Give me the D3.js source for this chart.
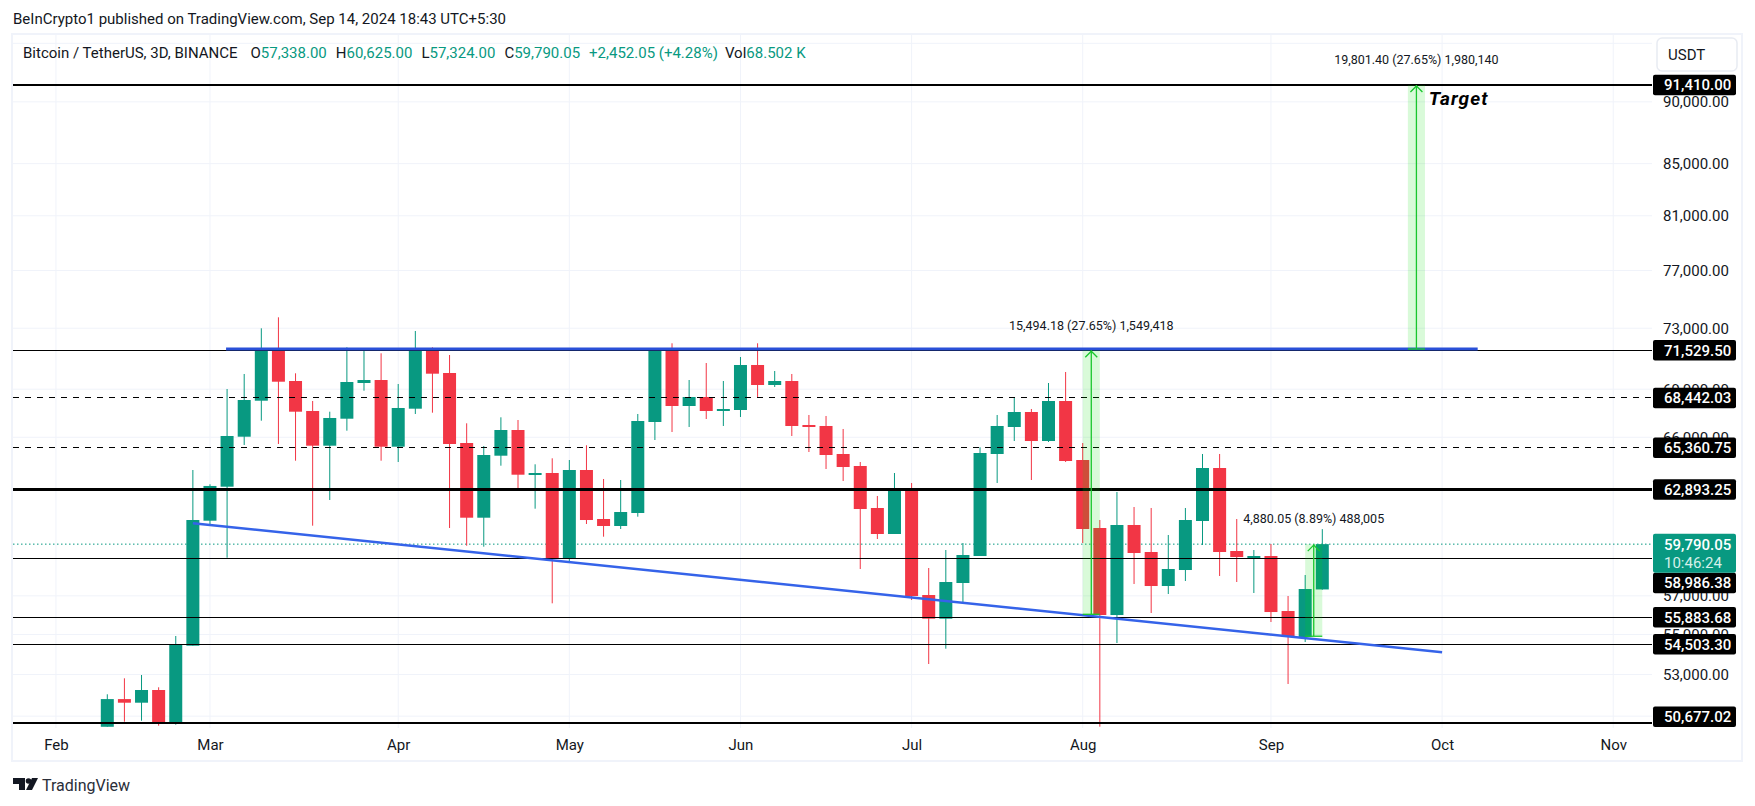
<!DOCTYPE html>
<html>
<head>
<meta charset="utf-8">
<script src="https://cdn.jsdelivr.net/npm/d3@7"></script>
<style>
  body { margin: 0; background: #fff; }
  svg { display: block; }
  text { font-family: Roboto, sans-serif; }
</style>
</head>
<body>
<div id="chart"></div>
<script>
// 3D candles
const opens = [50500,51810,51637,52247,50691,54431,61100,63052,66035,68269,
  71530,69524,67623,65488,67143,69396,69588,65427,67767,71530,
  70041,65651,61270,64885,66445,63737,63855,59029,64032,61196,
  60802,61537,66939,71530,67936,68504,67623,67685,70561,69268,
  69524,66753,66692,64987,64270,61822,60354,62917,57043,55807,
  57680,59138,64987,66630,67560,65772,68250,64627,60689,55998,
  60858,59357,57520,58377,61083,64151,59412,59083,59138,56205,
  54870,57338];
const highs = [52040,52815,52977,52378,54922,64032,63192,69012,69976,72996,
  73742,70021,68250,67579,71725,71530,71328,69332,72814,71725,
  71216,66858,65470,67230,67062,64371,64729,64627,65512,63502,
  63443,67436,71612,71991,69588,70691,69524,71084,71991,70170,
  69976,67373,67311,66507,64508,62512,63855,63268,58485,59467,
  59853,65391,67373,68504,67748,69396,70106,65651,61139,62743,
  61879,61822,60298,61822,64987,64987,61196,59467,59798,56991,
  58108,60625];
const lows = [50500,50738,50784,50551,50598,54431,60875,59045,65530,67019,
  65591,64585,60819,62281,66402,68904,64585,64508,67436,67517,
  60689,59704,59649,64288,62819,61782,56607,58827,60914,60203,
  60633,61327,65833,66323,66630,67124,66692,67249,68440,69140,
  66078,65107,64091,63385,58431,60075,60354,56780,53518,54280,
  56675,59138,63268,65772,63443,65712,64508,59853,50504,54567,
  57627,56102,57096,57787,59743,58055,57733,57149,55637,52538,
  54617,57324];
const closes = [51810,51637,52247,50677,54502,61139,63094,66078,68313,71530,
  69479,67579,65488,67187,69460,69588,65427,67811,71530,69996,
  65591,61270,64927,66445,63755,63855,59029,64032,61139,60802,
  61593,67000,71530,67936,68504,67623,67748,70561,69268,69524,
  66692,66630,64927,64210,61764,60354,62917,56991,55807,57733,
  59193,65047,66692,67560,65772,68250,64567,60633,55998,60858,
  59303,57520,58431,61139,64151,59357,59083,59138,56153,54870,
  57360,59790.05];

const monthNames = ["Feb","Mar","Apr","May","Jun","Jul","Aug","Sep","Oct","Nov"];
const monthBars = [-3,6,17,27,37,47,57,68,78,88];   // bar index where each month starts

const priceTicks = [90000,85000,81000,77000,73000,69000,66000,57000,55000,53000,51000];
const extraGrid = [95000];

const levelPrices = [91410,71529.5,68442.03,65360.75,62893.25,58986.38,55883.68,54503.3,50677.02];
const levelKinds = ["thick","thin","dash","dash","thick","thin","thin","thin","thick"];
const lastPrice = 59790.05;
const countdown = "10:46:24";

const resistance = [71612,71612];
const resistanceBars = [6.94,80.08];
const trendPrices = [60954,54100];
const trendBars = [5,78];

const rangeBars = [57,76,70];
const rangeFrom = [56035.32,71608.6,54910];
const rangeTo = [71529.5,91410,59790.05];
const rangeLabels = ["15,494.18 (27.65%) 1,549,418","19,801.40 (27.65%) 1,980,140","4,880.05 (8.89%) 488,005"];

const width = 1755, height = 806;
const plotLeft = 13, plotRight = 1652, plotTop = 35, plotBottom = 728;
const GREEN = "#089981", RED = "#f23645", GRID = "#f0f3fa", INK = "#131722";

const x = d3.scaleLinear().domain([0, 71]).range([107.3, 1322.3]);
const y = d3.scaleLog().domain([91410, 50677.02]).range([85, 723]);

const svg = d3.select("#chart").append("svg").attr("width", width).attr("height", height);

svg.append("defs").append("clipPath").attr("id", "plotClip").append("rect")
  .attr("x", plotLeft).attr("y", plotTop)
  .attr("width", plotRight - plotLeft).attr("height", plotBottom - plotTop);

// frame
svg.append("rect").attr("x", plotLeft - 1).attr("y", 34)
  .attr("width", 1742 - plotLeft + 1).attr("height", 761 - 34)
  .attr("fill", "none").attr("stroke", GRID).attr("stroke-width", 2);

// grid
svg.append("g").selectAll("line").data(monthBars).join("line")
  .attr("x1", d => x(d)).attr("x2", d => x(d))
  .attr("y1", plotTop).attr("y2", plotBottom)
  .attr("stroke", GRID);
svg.append("g").selectAll("line").data(priceTicks.concat(extraGrid)).join("line")
  .attr("x1", plotLeft).attr("x2", plotRight)
  .attr("y1", d => y(d)).attr("y2", d => y(d))
  .attr("stroke", GRID);

const plot = svg.append("g").attr("clip-path", "url(#plotClip)");

// last price dotted line sits under the candles
plot.append("line")
  .attr("x1", plotLeft).attr("x2", plotRight)
  .attr("y1", y(lastPrice)).attr("y2", y(lastPrice))
  .attr("stroke", GREEN).attr("stroke-dasharray", "1.5 2.5");

// candles
const candles = plot.append("g").selectAll("g").data(d3.range(opens.length)).join("g")
  .attr("fill", i => closes[i] >= opens[i] ? GREEN : RED)
  .attr("stroke", i => closes[i] >= opens[i] ? GREEN : RED);
candles.append("line")
  .attr("x1", i => x(i)).attr("x2", i => x(i))
  .attr("y1", i => y(highs[i])).attr("y2", i => y(lows[i]));
candles.append("rect")
  .attr("stroke", "none")
  .attr("x", i => x(i) - 6.5).attr("width", 13)
  .attr("y", i => y(Math.max(opens[i], closes[i])))
  .attr("height", i => Math.max(2, Math.abs(y(opens[i]) - y(closes[i]))));

// horizontal levels
const levelWidth = { thick: 2.5, thin: 1, dash: 1 };
plot.append("g").selectAll("line").data(levelPrices).join("line")
  .attr("x1", plotLeft).attr("x2", plotRight)
  .attr("y1", d => y(d)).attr("y2", d => y(d))
  .attr("stroke", "#000")
  .attr("shape-rendering", "crispEdges")
  .attr("stroke-width", (d, i) => levelWidth[levelKinds[i]])
  .attr("stroke-dasharray", (d, i) => levelKinds[i] === "dash" ? "6 6" : null);

// resistance and trend line
plot.append("line")
  .attr("x1", x(resistanceBars[0])).attr("x2", x(resistanceBars[1]))
  .attr("y1", y(resistance[0])).attr("y2", y(resistance[1]))
  .attr("stroke", "#2a50d8").attr("stroke-width", 3);
plot.append("line")
  .attr("x1", x(trendBars[0])).attr("x2", x(trendBars[1]))
  .attr("y1", y(trendPrices[0])).attr("y2", y(trendPrices[1]))
  .attr("stroke", "#3563e9").attr("stroke-width", 2.5);

// price range tools
const ranges = svg.append("g").selectAll("g").data(rangeBars).join("g");
ranges.append("rect")
  .attr("x", d => x(d)).attr("width", d => x(d + 1) - x(d))
  .attr("y", (d, i) => y(rangeTo[i]))
  .attr("height", (d, i) => y(rangeFrom[i]) - y(rangeTo[i]))
  .attr("fill", "#00e000").attr("fill-opacity", 0.15);
ranges.append("line")
  .attr("x1", d => x(d + 0.5)).attr("x2", d => x(d + 0.5))
  .attr("y1", (d, i) => y(rangeFrom[i])).attr("y2", (d, i) => y(rangeTo[i]))
  .attr("stroke", "#19c62d").attr("stroke-width", 1.3);
ranges.append("line")
  .attr("x1", d => x(d)).attr("x2", d => x(d + 1))
  .attr("y1", (d, i) => y(rangeFrom[i])).attr("y2", (d, i) => y(rangeFrom[i]))
  .attr("stroke", "#19c62d").attr("stroke-width", 1.3);
ranges.append("path")
  .attr("d", (d, i) => {
    const p = d3.path(), cx = x(d + 0.5), top = y(rangeTo[i]);
    p.moveTo(cx - 6, top + 7); p.lineTo(cx, top + 1); p.lineTo(cx + 6, top + 7);
    return p.toString();
  })
  .attr("fill", "none").attr("stroke", "#19c62d").attr("stroke-width", 1.3);
ranges.append("text")
  .attr("x", d => x(d + 0.5))
  .attr("y", (d, i) => y(rangeTo[i]) - 24)
  .attr("text-anchor", "middle").attr("dominant-baseline", "middle")
  .attr("font-size", 12.5).attr("fill", INK)
  .text((d, i) => rangeLabels[i]);

svg.append("text")
  .attr("x", x(76) + 21).attr("y", 105)
  .attr("font-family", "'Open Sans'").attr("font-weight", 700).attr("font-style", "italic")
  .attr("font-size", 19).attr("letter-spacing", 1.1).attr("fill", "#000")
  .text("Target");

// axes
const priceAxis = d3.axisRight(y).tickValues(priceTicks)
  .tickFormat(d3.format(",.2f")).tickSize(0).tickPadding(11);
const axisG = svg.append("g").attr("transform", `translate(${plotRight},0)`).call(priceAxis);
axisG.select(".domain").remove();
axisG.selectAll("text").attr("font-family", "Roboto").attr("font-size", 15).attr("fill", INK);

const timeScale = d3.scaleOrdinal().domain(monthBars).range(monthNames);
const timeAxis = d3.axisBottom(x).tickValues(monthBars)
  .tickFormat(d => timeScale(d)).tickSize(0).tickPadding(0);
const timeG = svg.append("g").attr("transform", "translate(0,739)").call(timeAxis);
timeG.select(".domain").remove();
timeG.selectAll("text").attr("font-family", "Roboto").attr("font-size", 15).attr("fill", INK);

// price labels; the pills get pushed out of the way like on the real chart
const pillX = 1653, pillW = 83, pillH = 20.5;
const lastTop = y(lastPrice) - 10.5, lastH = 39;
function pillCenter(price) {
  let c = y(price);
  if (c > lastTop && c < lastTop + lastH + pillH / 2) c = lastTop + lastH + pillH / 2;
  return Math.min(c, plotBottom - 1 - pillH / 2);
}
const pills = svg.append("g").selectAll("g").data(levelPrices).join("g")
  .attr("transform", d => `translate(${pillX},${pillCenter(d)})`);
pills.append("rect")
  .attr("y", -pillH / 2).attr("width", pillW).attr("height", pillH)
  .attr("rx", 2).attr("fill", "#000");
pills.append("text")
  .attr("x", 11).attr("dy", "0.36em")
  .attr("font-size", 15).attr("font-weight", 500).attr("fill", "#fff")
  .text(d3.format(",.2f"));

svg.append("rect").attr("x", pillX).attr("y", lastTop)
  .attr("width", pillW).attr("height", lastH).attr("rx", 2).attr("fill", GREEN);
svg.append("text").attr("x", pillX + 11).attr("y", y(lastPrice)).attr("dy", "0.36em")
  .attr("font-size", 15).attr("font-weight", 500).attr("fill", "#fff")
  .text(d3.format(",.2f")(lastPrice));
svg.append("text").attr("x", pillX + 11).attr("y", y(lastPrice) + 18).attr("dy", "0.36em")
  .attr("font-size", 15).attr("fill", "#d5f0ea").text(countdown);

// currency button
svg.append("rect").attr("x", 1657).attr("y", 38).attr("width", 80).attr("height", 33)
  .attr("rx", 5).attr("fill", "#fff").attr("stroke", "#e8ebf2").attr("stroke-width", 1.5);
svg.append("text").attr("x", 1668).attr("y", 55).attr("dy", "0.36em")
  .attr("font-size", 15).attr("fill", INK).text("USDT");

// header line and OHLC legend
svg.append("text").attr("x", 13).attr("y", 19).attr("dy", "0.36em")
  .attr("font-size", 15).attr("fill", INK)
  .text("BeInCrypto1 published on TradingView.com, Sep 14, 2024 18:43 UTC+5:30");

const last = opens.length - 1;
const fmt = d3.format(",.2f");
const change = closes[last] - opens[last];
const legend = svg.append("text").attr("x", 23).attr("y", 53).attr("dy", "0.36em")
  .attr("font-size", 15).attr("fill", INK);
legend.append("tspan").text("Bitcoin / TetherUS, 3D, BINANCE");
[["O", fmt(opens[last])], ["H", fmt(highs[last])], ["L", fmt(lows[last])], ["C", fmt(closes[last])]]
  .forEach(([k, v], i) => {
    legend.append("tspan").attr("dx", i === 0 ? 13 : 9).text(k);
    legend.append("tspan").attr("fill", GREEN).text(v);
  });
legend.append("tspan").attr("dx", 9).attr("fill", GREEN)
  .text("+" + fmt(change) + " (+" + d3.format(".2f")(change / opens[last] * 100) + "%)");
legend.append("tspan").attr("dx", 7).text("Vol");
legend.append("tspan").attr("fill", GREEN).text("68.502 K");

// TradingView mark
const logo = svg.append("g").attr("fill", "#131722");
logo.append("path").attr("d", "M13 778H25V790H19V784H13Z");
logo.append("circle").attr("cx", 28.5).attr("cy", 781).attr("r", 2.8);
logo.append("path").attr("d", "M32 778H38L32 790H26Z");
svg.append("text").attr("x", 42).attr("y", 785).attr("dy", "0.36em")
  .attr("font-size", 16).attr("fill", "#2a2e39").text("TradingView");
</script>
</body>
</html>
